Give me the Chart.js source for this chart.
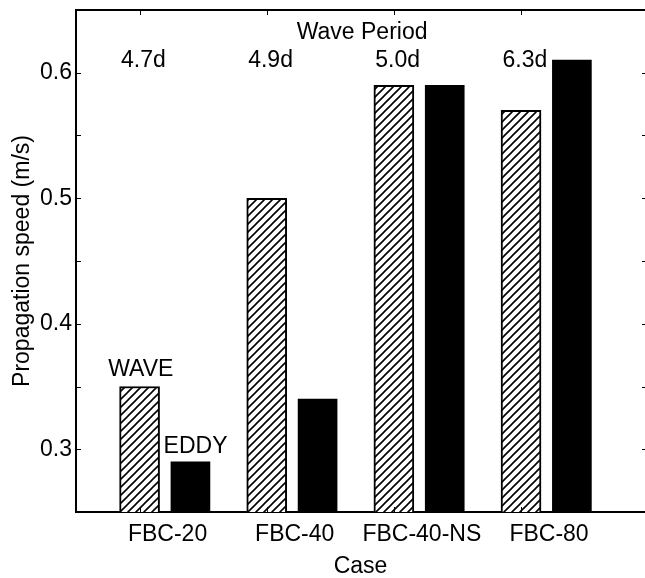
<!DOCTYPE html>
<html>
<head>
<meta charset="utf-8">
<script src="https://cdn.jsdelivr.net/npm/chart.js@4.4.1/dist/chart.umd.min.js"></script>
<style>
  body { margin: 0; background: #fff; }
  #wrap { width: 645px; height: 578px; }
</style>
</head>
<body>
<div id="wrap"><canvas id="myChart"></canvas></div>
<script>
const cases = ['FBC-20', 'FBC-40', 'FBC-40-NS', 'FBC-80'];
const periods = ['4.7d', '4.9d', '5.0d', '6.3d'];
const waveSpeed = [0.35, 0.50, 0.59, 0.57];
const eddySpeed = [0.29, 0.34, 0.59, 0.61];
const yTickLabels = [0.3, 0.4, 0.5, 0.6];

const FONT = '"Liberation Sans", Arial, Helvetica, sans-serif';
Chart.defaults.font.family = FONT;
Chart.defaults.font.size = 23;
Chart.defaults.color = '#000';

// wave / eddy bars sit at 1,2,3,4 and 1.4,2.4,...
const xPos = cases.map((c, i) => i + 1);

function hatch() {
    const c = document.createElement('canvas');
    c.width = 8;
    c.height = 8;
    const g = c.getContext('2d');
    g.fillStyle = '#fff';
    g.fillRect(0, 0, 8, 8);
    g.strokeStyle = '#000';
    g.lineWidth = 1.6;
    g.beginPath();
    g.moveTo(0, 8); g.lineTo(8, 0);
    g.moveTo(-2, 2); g.lineTo(2, -2);
    g.moveTo(6, 10); g.lineTo(10, 6);
    g.stroke();
    return g.createPattern(c, 'repeat');
}

const notes = {
    id: 'notes',
    afterDatasetsDraw(chart) {
        const {ctx, chartArea: a, scales: {x, y}} = chart;
        ctx.save();
        ctx.font = '23px ' + FONT;
        ctx.fillStyle = '#000';
        ctx.textAlign = 'center';
        ctx.textBaseline = 'middle';
        ctx.fillText('Wave Period', x.getPixelForValue(2.75), y.getPixelForValue(0.632));
        periods.forEach((p, i) => {
            ctx.fillText(p, x.getPixelForValue(xPos[i] + 0.03), y.getPixelForValue(0.61));
        });
        ctx.fillText(chart.data.datasets[0].label, x.getPixelForValue(1.01), y.getPixelForValue(0.3635));
        ctx.fillText(chart.data.datasets[1].label, x.getPixelForValue(1.44), y.getPixelForValue(0.302));

        // top edge and inward ticks (right edge falls just outside the picture)
        ctx.strokeStyle = '#000';
        ctx.lineWidth = 2;
        ctx.beginPath();
        ctx.moveTo(a.left, a.top);
        ctx.lineTo(a.right, a.top);
        ctx.stroke();
        ctx.lineWidth = 1;
        ctx.beginPath();
        y.ticks.forEach(t => {
            const py = Math.round(y.getPixelForValue(t.value)) + 0.5;
            ctx.moveTo(a.left, py); ctx.lineTo(a.left + 5, py);
            ctx.moveTo(a.right, py); ctx.lineTo(a.right - 3, py);
        });
        xPos.forEach(v => {
            const px = Math.round(x.getPixelForValue(v)) + 0.5;
            ctx.moveTo(px, a.top); ctx.lineTo(px, a.top + 5);
            ctx.moveTo(px, a.bottom); ctx.lineTo(px, a.bottom - 5);
        });
        ctx.stroke();
        ctx.restore();
    }
};

const ctx = document.getElementById('myChart');

new Chart(ctx, {
    type: 'bar',
    data: {
        datasets: [{
            label: 'WAVE',
            data: xPos.map((v, i) => ({x: v, y: waveSpeed[i]})),
            backgroundColor: hatch(),
            borderColor: '#000',
            borderWidth: 2,
            barThickness: 40,
            grouped: false
        }, {
            label: 'EDDY',
            data: xPos.map((v, i) => ({x: v + 0.4, y: eddySpeed[i]})),
            backgroundColor: '#000',
            borderWidth: 0,
            barThickness: 39,
            grouped: false
        }]
    },
    options: {
        responsive: true,
        maintainAspectRatio: false,
        animation: false,
        layout: { padding: { top: 10, right: 0, left: 0, bottom: 0 } },
        plugins: {
            legend: { display: false },
            tooltip: { enabled: false }
        },
        scales: {
            x: {
                type: 'linear',
                min: 0.5,
                max: 4.975,
                offset: false,
                afterBuildTicks: s => { s.ticks = xPos.map(v => ({value: v + 0.22})); },
                afterFit: s => {
                    s.height = 66;
                    s.paddingLeft = 0;
                    s.paddingRight = 0;
                },
                grid: { display: false, drawTicks: false },
                border: { color: '#000', width: 2 },
                ticks: {
                    autoSkip: false,
                    maxRotation: 0,
                    padding: 9,
                    callback: (v, i) => cases[i]
                },
                title: { display: true, text: 'Case', padding: { top: 0, bottom: -2 } }
            },
            y: {
                min: 0.25,
                max: 0.65,
                afterFit: s => {
                    s.width = 76;
                    s.paddingTop = 0;
                    s.paddingBottom = 0;
                },
                grid: { display: false, drawTicks: false },
                border: { color: '#000', width: 2 },
                ticks: {
                    stepSize: 0.05,
                    padding: 4,
                    callback: v => yTickLabels.some(t => Math.abs(t - v) < 1e-6) ? v.toFixed(1) : ''
                },
                title: { display: true, text: 'Propagation speed (m/s)', padding: 9 }
            }
        }
    },
    plugins: [notes]
});
</script>
</body>
</html>
